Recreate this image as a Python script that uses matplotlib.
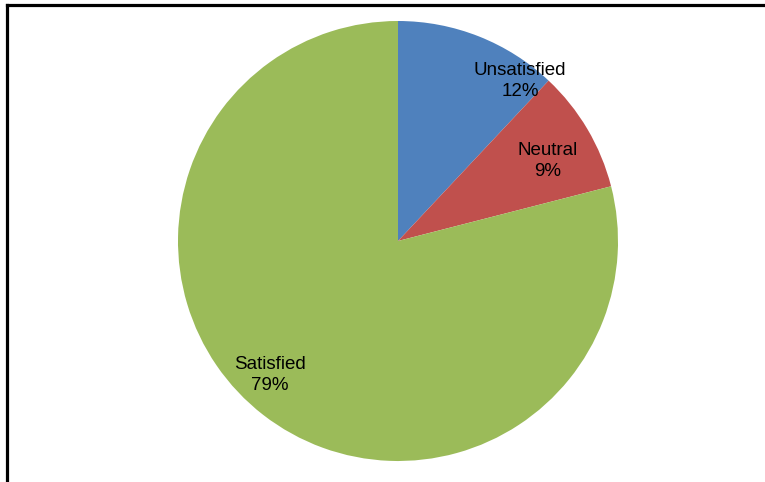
import matplotlib
matplotlib.use("Agg")
import matplotlib.pyplot as plt
from matplotlib.lines import Line2D

plt.rcParams['font.family'] = ['Liberation Sans', 'DejaVu Sans']

labels = ['Unsatisfied', 'Neutral', 'Satisfied']
values = [12, 9, 79]
colors = ['#4F81BD', '#C0504D', '#9BBB59']

W, H = 765, 482
fig = plt.figure(figsize=(W / 100, H / 100), dpi=100)

# pie centre (398, 241) px, radius 220 px
cx, cy, r = 398, 241, 220
ax = fig.add_axes([(cx - r) / W, (H - cy - r) / H, 2 * r / W, 2 * r / H])
ax.pie(values, colors=colors, startangle=90, counterclock=False,
       wedgeprops=dict(linewidth=0))
ax.set_xlim(-1, 1)
ax.set_ylim(-1, 1)
ax.set_aspect('equal')

# label offsets (px from centre) as Excel placed them
offs = [(122, -160), (150, -80), (-128, 134)]
for lab, v, (dx, dy) in zip(labels, values, offs):
    ax.text(dx / r, -dy / r, f"{lab}\n{v}%", ha='center', va='center',
            fontsize=13.5, linespacing=1.25, color='black')

# frame (only left and top edges visible in the crop)
fig.add_artist(Line2D([7 / W, 7 / W], [0, 1 - 5 / H], transform=fig.transFigure,
                      color='black', linewidth=2.3, solid_capstyle='projecting'))
fig.add_artist(Line2D([7 / W, 1], [1 - 5 / H, 1 - 5 / H], transform=fig.transFigure,
                      color='black', linewidth=2.3, solid_capstyle='projecting'))

fig.savefig('out.png', dpi=100)
